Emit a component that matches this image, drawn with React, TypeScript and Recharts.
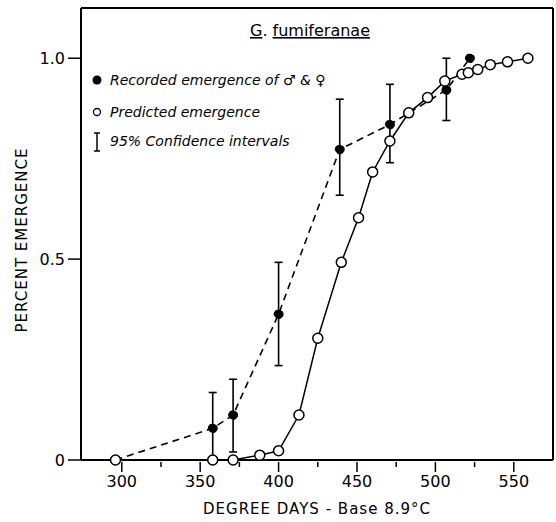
import { ComposedChart, Line, XAxis, YAxis, ErrorBar, ReferenceLine, Legend } from "recharts";

// recorded emergence (filled dots) with 95% confidence limits
const recordedDays = [296, 358, 371, 400, 439, 471, 507, 522];
const recordedValues = [0, 0.079, 0.112, 0.363, 0.773, 0.835, 0.921, 1.0];
const ciLow = [null, 0, 0.02, 0.235, 0.659, 0.74, 0.845, null];
const ciHigh = [null, 0.168, 0.201, 0.492, 0.898, 0.935, 1.0, null];

// predicted emergence (open dots)
const predictedDays = [296, 358, 371, 388, 400, 413, 425, 440, 451, 460, 471, 483, 495, 506, 517, 521, 527, 535, 546, 559];
const predictedValues = [0, 0, 0, 0.012, 0.023, 0.112, 0.303, 0.492, 0.603, 0.717, 0.794, 0.864, 0.902, 0.943, 0.96, 0.964, 0.972, 0.984, 0.991, 1.0];

const xTicks = [300, 325, 350, 375, 400, 425, 450, 475, 500, 525, 550];
const yTicks = [0, 0.5, 1.0];
const yTickLabels = ["0", "0.5", "1.0"];

const title = ["G", "fumiferanae"];
const legendLabels = ["Recorded emergence of \u2642 & \u2640", "Predicted emergence", "95% Confidence intervals"];
const yTitle = "PERCENT EMERGENCE";
const xTitle = "DEGREE DAYS - Base 8.9\u00B0C";

const recorded = recordedDays.map((day, i) => ({
  day,
  value: recordedValues[i],
  err: ciLow[i] == null || ciHigh[i] == null ? null : [recordedValues[i] - ciLow[i]!, ciHigh[i]! - recordedValues[i]],
}));
const predicted = predictedDays.map((day, i) => ({ day, value: predictedValues[i] }));

const FONT = "'DejaVu Sans', sans-serif";

function XTick({ x, y, payload }: any) {
  const v = payload.value;
  const major = v % 50 === 0;
  return (
    <g>
      <line x1={x} x2={x} y1={y} y2={y + (major ? 10 : 5)} stroke="#000" strokeWidth={1.5} />
      {major && (
        <text x={x} y={y + 25} textAnchor="middle" fontSize={16} fontFamily={FONT} fill="#000">
          {v}
        </text>
      )}
    </g>
  );
}

function YTitle() {
  return (
    <text
      x={22}
      y={240}
      transform="rotate(-90, 22, 240)"
      textAnchor="middle"
      dominantBaseline="central"
      fontFamily={FONT}
      fontSize={15}
      letterSpacing={1}
      fill="#000"
    >
      {yTitle}
    </text>
  );
}

function LegendBox() {
  return (
    <svg width={556} height={522} style={{ position: "absolute", left: 0, top: 0 }}>
      <text x={310} y={36} textAnchor="middle" fontSize={16} fontFamily={FONT} fill="#000">
        <tspan style={{ textDecoration: "underline" }}>{title[0]}</tspan>
        <tspan>. </tspan>
        <tspan style={{ textDecoration: "underline" }}>{title[1]}</tspan>
      </text>
      <g fontFamily={FONT} fontSize={14} fontStyle="italic" fill="#000">
        <circle cx={97} cy={80} r={4.5} fill="#000" />
        <text x={110} y={85}>{legendLabels[0]}</text>
        <circle cx={97} cy={112} r={3.5} fill="#fff" stroke="#000" strokeWidth={1.3} />
        <text x={110} y={117}>{legendLabels[1]}</text>
        <g stroke="#000" strokeWidth={1.5}>
          <line x1={97} x2={97} y1={133} y2={151} />
          <line x1={94} x2={100} y1={133} y2={133} />
          <line x1={94} x2={100} y1={151} y2={151} />
        </g>
        <text x={110} y={146}>{legendLabels[2]}</text>
      </g>
    </svg>
  );
}

export default function App() {
  return (
    <div style={{ position: "absolute", left: 0, top: 0, width: 556, height: 522, background: "#fff" }}>
      <ComposedChart width={556} height={522} margin={{ top: 8, right: 3, bottom: 0, left: 0 }}>
        <XAxis
          dataKey="day"
          type="number"
          domain={[274, 575]}
          ticks={xTicks}
          interval={0}
          height={62}
          tickSize={0}
          tickLine={false}
          tick={<XTick />}
          axisLine={{ stroke: "#000", strokeWidth: 2 }}
          label={{
            value: xTitle,
            position: "insideBottom",
            offset: 8,
            style: { fontFamily: FONT, fontSize: 15, letterSpacing: 1, fill: "#000" },
          }}
        />
        <YAxis
          type="number"
          domain={[0, 1.125]}
          ticks={yTicks}
          interval={0}
          width={81}
          tickSize={13}
          tickMargin={3}
          tickFormatter={(v: number) => yTickLabels[yTicks.indexOf(v)]}
          tick={{ fontSize: 16, fontFamily: FONT, fill: "#000" }}
          tickLine={{ stroke: "#000", strokeWidth: 1.5 }}
          axisLine={{ stroke: "#000", strokeWidth: 2 }}
          label={{ content: () => <YTitle /> }}
        />
        <ReferenceLine y={1.125} stroke="#000" strokeWidth={2} />
        <ReferenceLine x={575} stroke="#000" strokeWidth={2} />
        <Line
          data={recorded}
          dataKey="value"
          stroke="#000"
          strokeWidth={1.6}
          strokeDasharray="7 5"
          dot={{ r: 4.5, fill: "#000", stroke: "#000", strokeWidth: 1 }}
          activeDot={false}
          isAnimationActive={false}
        >
          <ErrorBar dataKey="err" direction="y" width={4} stroke="#000" strokeWidth={1.6} />
        </Line>
        <Line
          data={predicted}
          dataKey="value"
          stroke="#000"
          strokeWidth={1.5}
          dot={{ r: 5, fill: "#fff", stroke: "#000", strokeWidth: 1.5 }}
          activeDot={false}
          isAnimationActive={false}
        />
        <Legend
          layout="horizontal"
          verticalAlign="middle"
          align="center"
          content={() => <LegendBox />}
          wrapperStyle={{ left: 0, top: 0, width: 556, height: 522, margin: 0 }}
        />
      </ComposedChart>
    </div>
  );
}
